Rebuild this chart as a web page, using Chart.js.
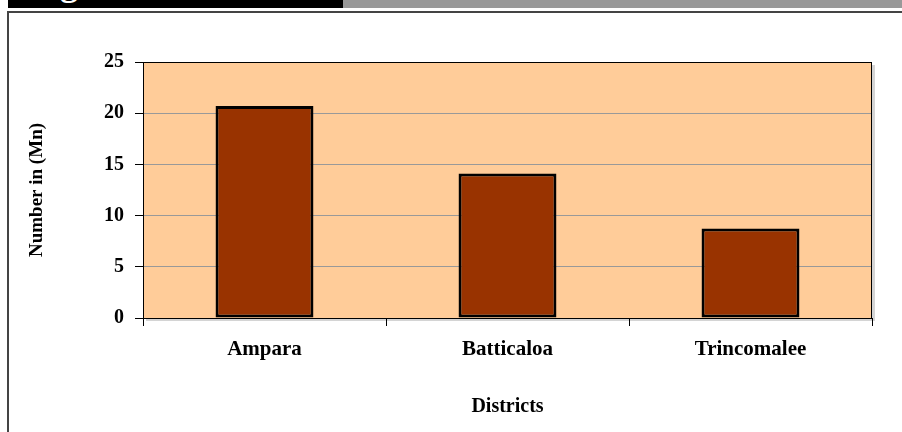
<!DOCTYPE html>
<html>
<head>
<meta charset="utf-8">
<script src="https://cdn.jsdelivr.net/npm/chart.js@4.4.1/dist/chart.umd.min.js"></script>
<style>
  html, body { margin: 0; padding: 0; background: #fff; }
  #wrap { position: relative; width: 902px; height: 432px; overflow: hidden; }
  .band { position: absolute; top: 0; height: 8px; overflow: hidden; }
  #bandDark { left: 8px; width: 335px; background: #000; }
  #bandGray { left: 343px; width: 559px; background: #999; }
  #cap { position: absolute; left: 20px; top: -35px; font: bold 36px 'Liberation Serif', serif; line-height: 36px; color: #fff; white-space: nowrap; }
  #frameTop { position: absolute; left: 7px; top: 11px; width: 895px; height: 2px; background: #444; }
  #frameLeft { position: absolute; left: 7px; top: 11px; width: 2px; height: 421px; background: #444; }
  #chartBox { position: absolute; left: 0; top: 0; width: 902px; height: 432px; }
</style>
</head>
<body>
<div id="wrap">
  <div class="band" id="bandDark"><div id="cap">Figure</div></div>
  <div class="band" id="bandGray"></div>
  <div id="frameTop"></div>
  <div id="frameLeft"></div>
  <div id="chartBox"><canvas id="chart"></canvas></div>
</div>
<script>
const districts = ['Ampara', 'Batticaloa', 'Trincomalee'];
const numbers = [20.7, 14.1, 8.75];
const yTicks = [0, 5, 10, 15, 20, 25];

const FONT = "'Liberation Serif', 'Times New Roman', serif";

// peach plot background with a small drop shadow, black frame on top
const plotArea = {
    id: 'plotArea',
    beforeDraw(chart) {
        const { ctx, chartArea: a } = chart;
        ctx.save();
        ctx.fillStyle = '#d4d4d4';
        ctx.fillRect(a.left + 3, a.top + 3, a.right - a.left, a.bottom - a.top);
        ctx.fillStyle = '#FFCC99';
        ctx.fillRect(a.left, a.top, a.right - a.left, a.bottom - a.top);
        ctx.restore();
    },
    afterDraw(chart) {
        const { ctx, chartArea: a } = chart;
        ctx.save();
        ctx.strokeStyle = '#000';
        ctx.lineWidth = 1;
        ctx.strokeRect(a.left + 0.5, a.top + 0.5, a.right - a.left - 1, a.bottom - a.top);
        ctx.restore();
    }
};

new Chart(document.getElementById('chart'), {
    type: 'bar',
    data: {
        labels: districts,
        datasets: [{
            data: numbers,
            backgroundColor: '#993300',
            borderColor: '#000',
            borderWidth: 3,
            borderSkipped: false,
            categoryPercentage: 1,
            barPercentage: 0.403
        }]
    },
    options: {
        responsive: true,
        maintainAspectRatio: false,
        animation: false,
        layout: { padding: { left: 24, top: 62, right: 30, bottom: 10 } },
        plugins: { legend: { display: false }, tooltip: { enabled: false } },
        scales: {
            x: {
                afterFit: s => { s.height = 104; },
                grid: { offset: true, drawOnChartArea: false, tickLength: 8, tickColor: '#000' },
                border: { color: '#000', width: 1 },
                ticks: { color: '#000', padding: 11, font: { family: FONT, size: 21, weight: 'bold' } },
                title: {
                    display: true, text: 'Districts', color: '#000',
                    padding: { top: 0, bottom: 3 },
                    font: { family: FONT, size: 20, weight: 'bold' }
                }
            },
            y: {
                min: 0, max: 25,
                afterFit: s => { s.width = 119; },
                afterBuildTicks: s => { s.ticks = yTicks.map(v => ({ value: v })); },
                grid: { color: '#999', tickLength: 8, tickColor: '#000' },
                border: { color: '#000', width: 1 },
                ticks: { color: '#000', padding: 11, font: { family: FONT, size: 20, weight: 'bold' } },
                title: {
                    display: true, text: 'Number in (Mn)', color: '#000',
                    padding: { top: 2, bottom: 0 },
                    font: { family: FONT, size: 19, weight: 'bold' }
                }
            }
        }
    },
    plugins: [plotArea]
});
</script>
</body>
</html>
